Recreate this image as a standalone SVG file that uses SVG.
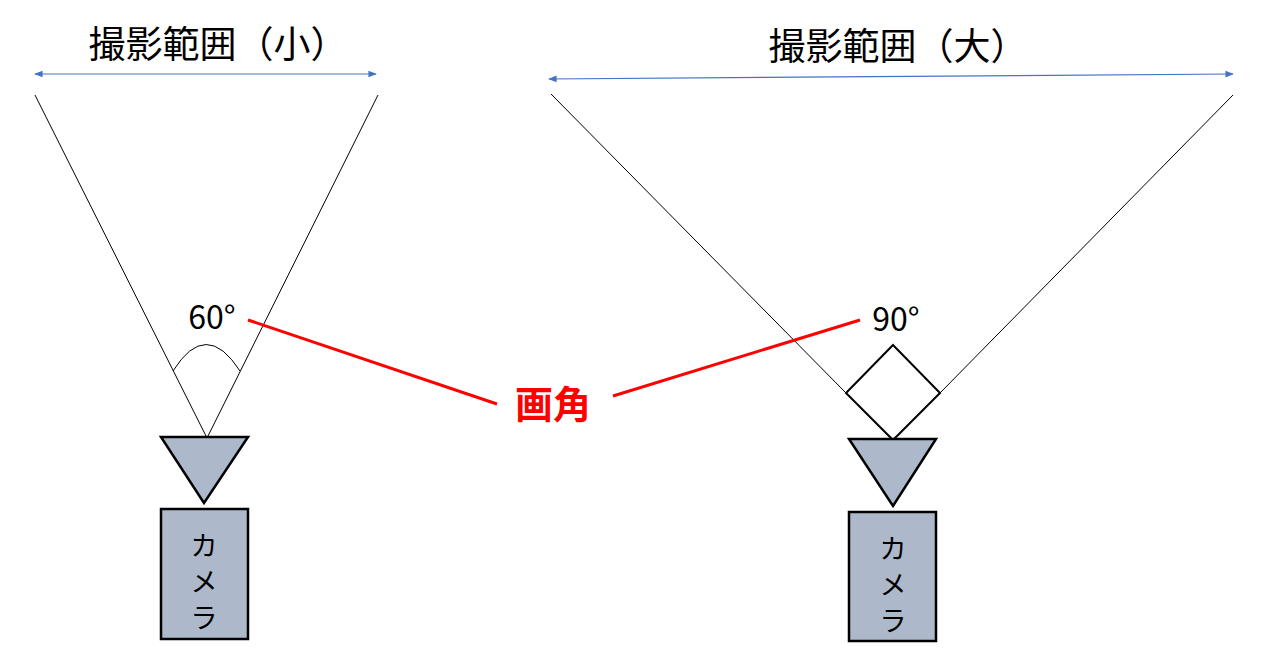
<svg xmlns="http://www.w3.org/2000/svg" width="1265" height="656" viewBox="0 0 1265 656">
<style>
.t{font-family:"Noto Sans CJK JP","Liberation Sans",sans-serif;fill:#000}
.thin{stroke:#000;stroke-width:1;fill:none}
.cam{fill:#adb9ca;stroke:#000;stroke-width:2.5}
.red{stroke:#ff0000;stroke-width:3}
.blue{stroke:#4472c4;stroke-width:1.2;marker-start:url(#a);marker-end:url(#a)}
</style>
<defs><marker id="a" viewBox="0 0 10 10" refX="9" refY="5" markerWidth="7" markerHeight="7" orient="auto-start-reverse"><path d="M0,1L10,5L0,9z" fill="#4472c4"/></marker></defs>
<rect width="1265" height="656" fill="#fff"/>
<g id="connectors">
<line class="blue" x1="35" y1="74" x2="376" y2="74"/>
<line class="blue" x1="549" y1="79" x2="1233" y2="74"/>
<polyline class="thin" points="35,95 207,438 378,95"/>
<path class="thin" d="M173,371 Q206,318 240,371"/>
<polyline class="thin" points="551,94 846,393"/>
<polyline class="thin" points="1233,95 940,393"/>
<line class="red" x1="248" y1="320" x2="497" y2="404"/>
<line class="red" x1="613" y1="396" x2="860" y2="320"/>
</g>
<g id="title-small"><text class="t" x="218" y="58" font-size="37" text-anchor="middle">撮影範囲（小）</text></g>
<g id="title-large"><text class="t" x="898" y="60" font-size="37" text-anchor="middle">撮影範囲（大）</text></g>
<g id="angle60"><text class="t" x="212" y="329" font-size="32" text-anchor="middle">60°</text></g>
<g id="angle90"><text class="t" x="896" y="331" font-size="32" text-anchor="middle">90°</text></g>
<g id="gakaku"><text x="553" y="418" font-size="38" font-weight="bold" fill="#ff0000" text-anchor="middle" font-family="Noto Sans CJK JP,sans-serif">画角</text></g>
<g id="diamond"><polygon points="893,345 940,393 893,440 846,393" fill="#fff" stroke="#000" stroke-width="2"/></g>
<g id="camera-left">
<polygon class="cam" points="161,437 248,437 204,503"/>
<rect class="cam" x="161" y="509" width="87" height="130"/>
<text class="t" font-size="27" text-anchor="middle"><tspan x="204" y="556">カ</tspan><tspan x="204" y="592">メ</tspan><tspan x="204" y="628">ラ</tspan></text>
</g>
<g id="camera-right">
<polygon class="cam" points="849,439 936,439 893,506"/>
<rect class="cam" x="849" y="512" width="87" height="129"/>
<text class="t" font-size="27" text-anchor="middle"><tspan x="893" y="559">カ</tspan><tspan x="893" y="595">メ</tspan><tspan x="893" y="631">ラ</tspan></text>
</g>
</svg>
